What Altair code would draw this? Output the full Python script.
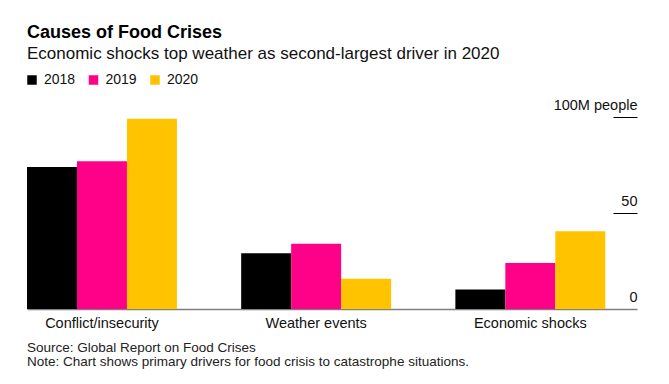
import altair as alt
import pandas as pd

causes = ["Conflict/insecurity", "Weather events", "Economic shocks"]
years = ["2018", "2019", "2020"]
v2018 = [74.0, 29.0, 10.2]
v2019 = [77.0, 34.0, 24.0]
v2020 = [99.1, 15.7, 40.5]
colors = ["#000000", "#ff0088", "#ffc300"]
y_ticks = [0, 50, 100]
title = "Causes of Food Crises"
subtitle = "Economic shocks top weather as second-largest driver in 2020"
footer = "Source: Global Report on Food Crises\nNote: Chart shows primary drivers for food crisis to catastrophe situations."

rows = []
for i, c in enumerate(causes):
    for y, vals in zip(years, [v2018, v2019, v2020]):
        rows.append({"cause": c, "year": y, "value": vals[i]})
df = pd.DataFrame(rows)

FONT = "Liberation Sans"

bars = alt.Chart(df).mark_bar().encode(
    x=alt.X(
        "cause:N",
        sort=causes,
        title=None,
        scale=alt.Scale(paddingInner=0.3, paddingOuter=0.074, align=0),
        axis=alt.Axis(
            ticks=False,
            labelAngle=0,
            labelFontSize=14.5,
            labelFont=FONT,
            labelColor="#111111",
            labelPadding=7,
            domainColor="#808080",
            domainWidth=1.5,
        ),
    ),
    xOffset=alt.XOffset("year:N", sort=years, scale=alt.Scale(paddingInner=0, paddingOuter=0)),
    y=alt.Y(
        "value:Q",
        title=None,
        scale=alt.Scale(domain=[0, 100], nice=False),
        axis=alt.Axis(
            orient="right",
            offset=-24,
            values=y_ticks,
            grid=False,
            domain=False,
            tickSize=24,
            tickWidth=1,
            tickColor={"condition": {"test": "datum.value == 0", "value": "transparent"}, "value": "#000000"},
            labelAlign="right",
            labelBaseline="alphabetic",
            labelPadding=0,
            labelOffset=-8,
            labelFontSize=14.5,
            labelFont=FONT,
            labelColor="#111111",
            labelExpr="datum.value == 100 ? '100M people' : datum.label",
        ),
    ),
    color=alt.Color(
        "year:N",
        sort=years,
        scale=alt.Scale(domain=years, range=colors),
        legend=alt.Legend(
            orient="none",
            legendX=-2,
            legendY=-44,
            direction="horizontal",
            title=None,
            symbolType="square",
            symbolSize=90,
            symbolStrokeWidth=0,
            labelFontSize=14,
            labelFont=FONT,
            labelColor="#111111",
            labelOffset=5,
            columnPadding=10.5,
            padding=0,
        ),
    ),
)

foot = alt.Chart(pd.DataFrame({"t": [footer]})).mark_text(
    align="left", baseline="alphabetic", fontSize=13.5, font=FONT, color="#222222",
    lineBreak="\n", lineHeight=13.5,
).encode(x=alt.value(0), y=alt.value(235), text="t:N")

chart = alt.layer(bars, foot).properties(
    width=610,
    height=192,
    autosize=alt.AutoSizeParams(type="none"),
    padding={"left": 19, "top": 109, "right": 20, "bottom": 60},
    title=alt.TitleParams(
        title,
        subtitle=subtitle,
        anchor="start",
        frame="group",
        font=FONT,
        fontSize=18,
        fontWeight="bold",
        color="#000000",
        subtitleFont=FONT,
        subtitleFontSize=17,
        subtitleColor="#111111",
        subtitlePadding=4,
        offset=11,
    ),
).configure(background="white").configure_view(stroke=None)

chart.save("out.html", embed_options={"renderer": "svg", "actions": False})
